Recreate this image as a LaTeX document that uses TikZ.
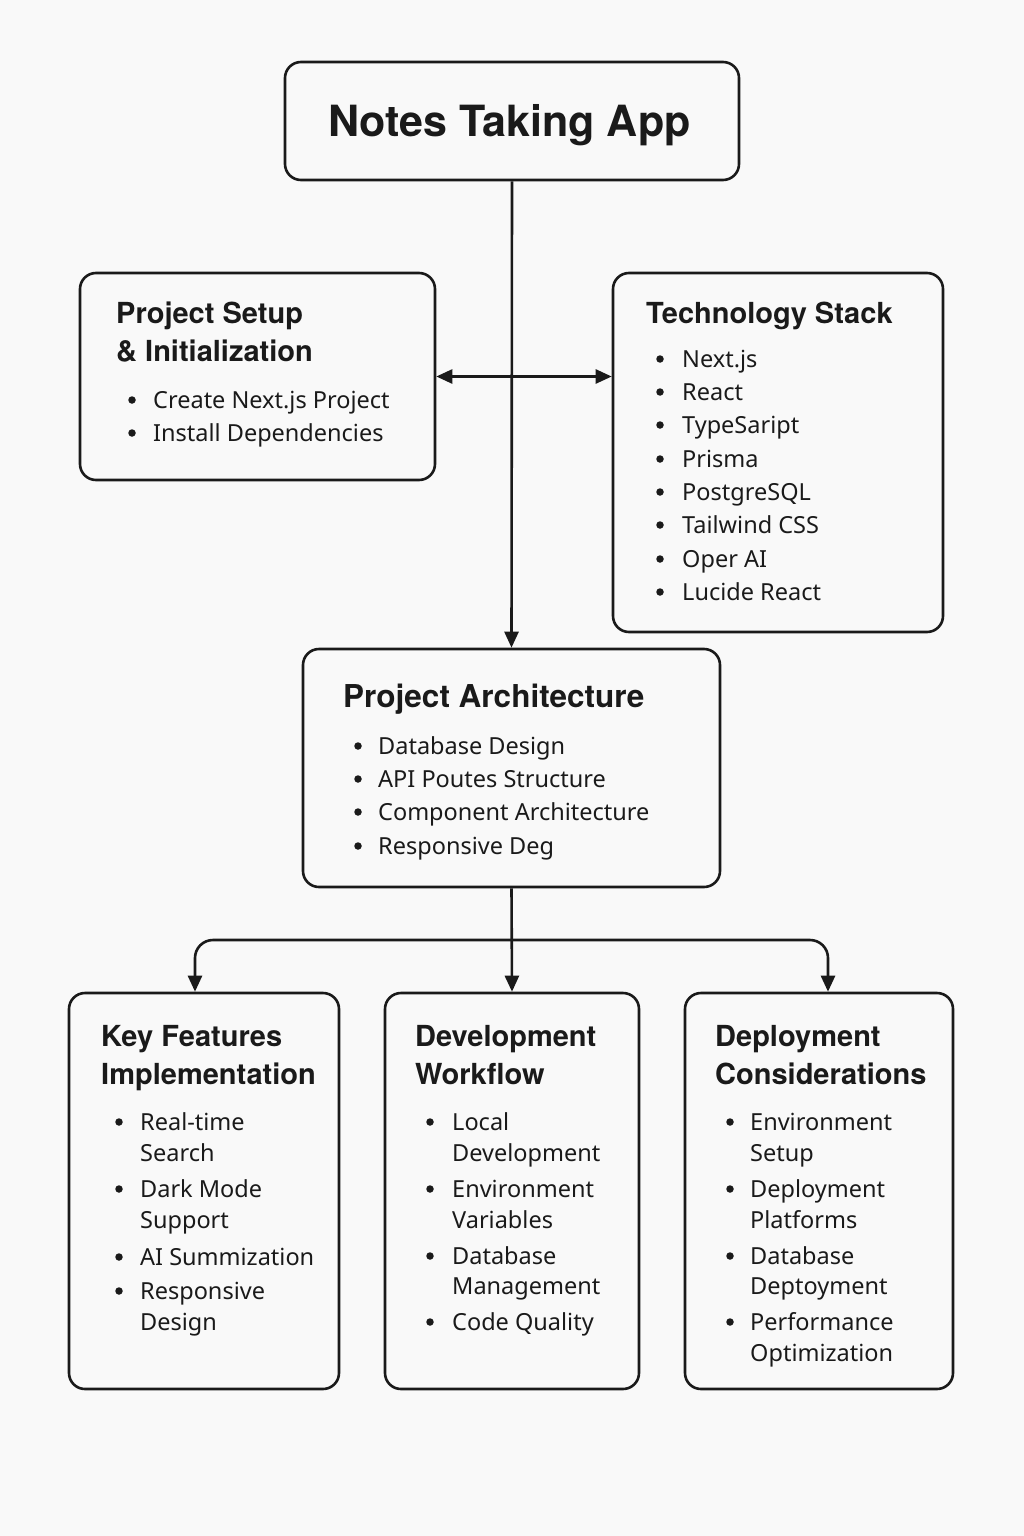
\documentclass[tikz,border=0pt]{standalone}
\usepackage{fontspec}
\setmainfont{Noto Sans}
\newfontfamily\hdfont{TeX Gyre Heros}
\usetikzlibrary{arrows.meta,calc}
\definecolor{ink}{HTML}{1A1A1A}
\definecolor{bgc}{HTML}{F9F9F9}
\newcommand{\bitem}[5]{%
  \node[dot] (#1-b) at (#2,8-#4) {};
  \node[txt] (#1) at (#3,-#4) {#5};}
\newcommand{\contline}[4]{\node[txt] (#1) at (#2,-#3) {#4};}
\begin{document}
\begin{tikzpicture}[x=1pt,y=1pt,
  box/.style={draw=ink, line width=2.6pt, rounded corners=16pt, fill=bgc, inner sep=0},
  txt/.style={anchor=base west, inner sep=0, text=ink, font=\fontsize{23.5}{28}\selectfont},
  hd/.style={anchor=base west, inner sep=0, text=ink, font=\hdfont\bfseries\fontsize{29}{35}\selectfont},
  dot/.style={circle, fill=ink, inner sep=0, minimum size=7.5pt},
  arr/.style={draw=ink, line width=2.6pt, -{Triangle[length=16pt,width=14pt]}},
  darr/.style={draw=ink, line width=2.6pt, {Triangle[length=16pt,width=14pt]}-{Triangle[length=16pt,width=14pt]}}]
\fill[bgc] (0,0) rectangle (1024,-1536);
\useasboundingbox (0,0) rectangle (1024,-1536);

% boxes
\node[box, minimum width=454pt, minimum height=118pt] (title) at (512,-121) {};
\node[anchor=base, inner sep=0, text=ink, font=\hdfont\bfseries\fontsize{43}{52}\selectfont] (title-t) at (509.5,-137) {Notes Taking App};
\node[box, minimum width=355pt, minimum height=207pt] (setup) at (257.5,-376.5) {};
\node[box, minimum width=330pt, minimum height=359pt] (tech) at (778,-452.5) {};
\node[box, minimum width=417pt, minimum height=238pt] (arch) at (511.5,-768) {};
\node[box, minimum width=270pt, minimum height=396pt] (kf) at (204,-1191) {};
\node[box, minimum width=254pt, minimum height=396pt] (dev) at (512,-1191) {};
\node[box, minimum width=268pt, minimum height=396pt] (dep) at (819,-1191) {};

% connectors
\draw[arr] (title.south) -- (arch.north);
\draw[darr] (setup.east) -- (setup.east -| tech.west);
\coordinate (split) at ($(arch.south)!0.5!(dev.north)$);
\coordinate (kfin) at ([xshift=-9pt]kf.north);
\coordinate (depin) at ([xshift=9pt]dep.north);
\draw[arr] (arch.south) -- (dev.north);
\draw[arr, rounded corners=18pt] (split) -| (kfin);
\draw[arr, rounded corners=18pt] (split) -| (depin);

% Project Setup
\node[hd] (setup-h1) at (116,-323) {Project Setup};
\node[hd] (setup-h2) at (116,-361) {\& Initialization};
\bitem{s1}{132}{153}{408}{Create Next.js Project}
\bitem{s2}{132}{153}{441}{Install Dependencies}

% Technology Stack
\node[hd] (tech-h) at (646,-323) {Technology Stack};
\bitem{t1}{660}{682}{367}{Next.js}
\bitem{t2}{660}{682}{400}{React}
\bitem{t3}{660}{682}{433}{TypeSaript}
\bitem{t4}{660}{682}{467}{Prisma}
\bitem{t5}{660}{682}{500}{PostgreSQL}
\bitem{t6}{660}{682}{533}{Tailwind CSS}
\bitem{t7}{660}{682}{567}{Oper AI}
\bitem{t8}{660}{682}{600}{Lucide React}

% Architecture
\node[hd, font=\hdfont\bfseries\fontsize{31.5}{38}\selectfont] (arch-h) at (343,-707) {Project Architecture};
\bitem{a1}{358}{378}{754}{Database Design}
\bitem{a2}{358}{378}{787}{API Poutes Structure}
\bitem{a3}{358}{378}{820}{Component Architecture}
\bitem{a4}{358}{378}{854}{Responsive Deg}

% Key Features
\node[hd] (kf-h1) at (101,-1046) {Key Features};
\node[hd] (kf-h2) at (101,-1084) {Implementation};
\bitem{k1}{119}{140}{1130}{Real-time}
\contline{k1b}{140}{1161}{Search}
\bitem{k2}{119}{140}{1197}{Dark Mode}
\contline{k2b}{140}{1228}{Support}
\bitem{k3}{119}{140}{1265}{AI Summization}
\bitem{k4}{119}{140}{1299}{Responsive}
\contline{k4b}{140}{1330}{Design}

% Development Workflow
\node[hd] (dev-h1) at (415,-1046) {Development};
\node[hd] (dev-h2) at (415,-1084) {Workflow};
\bitem{d1}{430}{452}{1130}{Local}
\contline{d1b}{452}{1161}{Development}
\bitem{d2}{430}{452}{1197}{Environment}
\contline{d2b}{452}{1228}{Variables}
\bitem{d3}{430}{452}{1264}{Database}
\contline{d3b}{452}{1294}{Management}
\bitem{d4}{430}{452}{1330}{Code Quality}

% Deployment
\node[hd] (dep-h1) at (715,-1046) {Deployment};
\node[hd] (dep-h2) at (715,-1084) {Considerations};
\bitem{p1}{730}{750}{1130}{Environment}
\contline{p1b}{750}{1161}{Setup}
\bitem{p2}{730}{750}{1197}{Deployment}
\contline{p2b}{750}{1228}{Platforms}
\bitem{p3}{730}{750}{1264}{Database}
\contline{p3b}{750}{1294}{Deptoyment}
\bitem{p4}{730}{750}{1330}{Performance}
\contline{p4b}{750}{1361}{Optimization}
\end{tikzpicture}
\end{document}
